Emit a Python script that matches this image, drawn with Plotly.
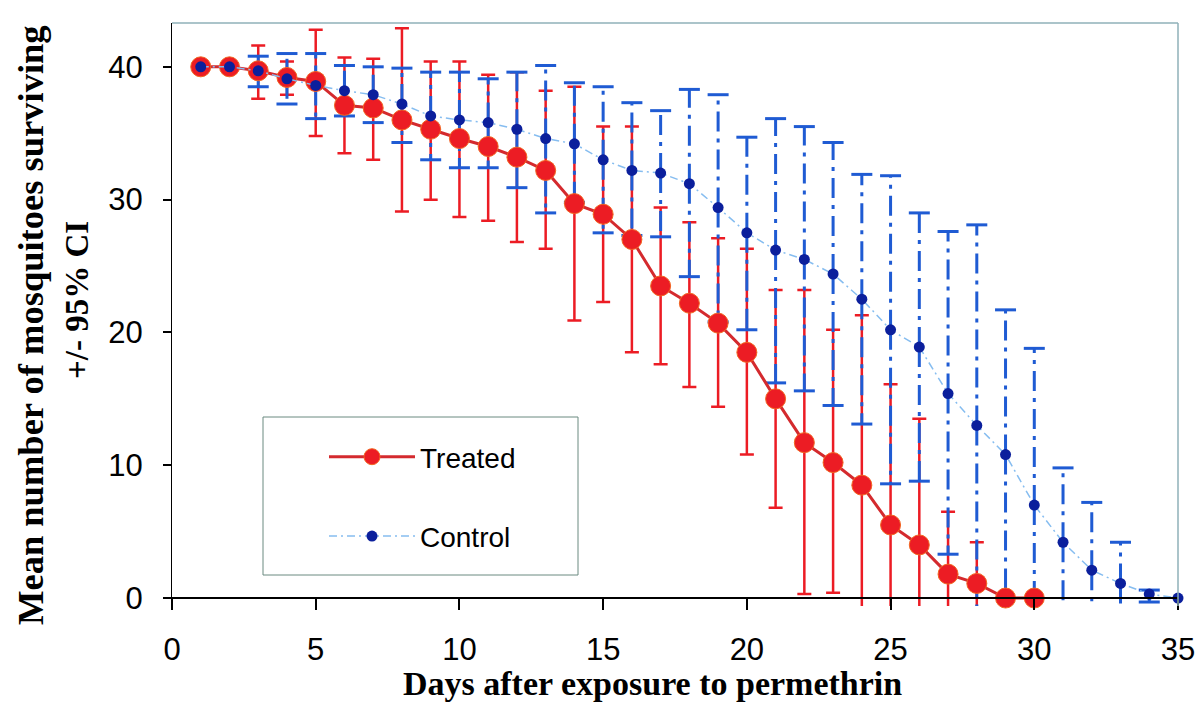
import plotly.graph_objects as go

# ---------------- data ----------------
days_treated = list(range(1, 31))
treated_mean = [40.0, 40.0, 39.7, 39.2, 38.9, 37.1, 36.9, 36.0, 35.3, 34.6,
                34.0, 33.2, 32.2, 29.7, 28.9, 27.0, 23.5, 22.2, 20.7, 18.5,
                15.0, 11.7, 10.2, 8.5, 5.5, 4.0, 1.8, 1.1, 0.0, 0.0]
treated_upper = [40.0, 40.0, 41.6, 40.4, 42.8, 40.7, 40.6, 42.9, 40.4, 40.4,
                 39.4, 39.6, 38.2, 38.5, 35.5, 35.5, 29.4, 28.3, 27.1, 26.3,
                 23.2, 23.2, 20.2, 21.3, 16.1, 13.5, 6.5, 4.2, 0.0, 0.0]
treated_lower = [40.0, 40.0, 37.6, 37.9, 34.8, 33.5, 33.0, 29.1, 30.0, 28.7,
                 28.4, 26.8, 26.3, 20.9, 22.3, 18.5, 17.6, 15.9, 14.4, 10.8,
                 6.8, 0.3, 0.4, -3.0, -4.0, -4.0, -3.0, -2.0, 0.0, 0.0]

days_control = list(range(1, 36))
control_mean = [40.0, 40.0, 39.7, 39.1, 38.6, 38.2, 37.9, 37.2, 36.3, 36.0,
                35.8, 35.3, 34.6, 34.2, 33.0, 32.2, 32.0, 31.2, 29.4, 27.5,
                26.2, 25.5, 24.4, 22.5, 20.2, 18.9, 15.4, 13.0, 10.8, 7.0,
                4.2, 2.1, 1.1, 0.3, 0.0]
control_upper = [40.0, 40.0, 40.8, 41.0, 41.0, 40.1, 40.0, 39.9, 39.6, 39.6,
                 39.1, 39.6, 40.1, 38.8, 38.5, 37.3, 36.7, 38.3, 37.9, 34.7,
                 36.1, 35.5, 34.3, 31.9, 31.8, 29.0, 27.6, 28.1, 21.7, 18.8,
                 9.8, 7.2, 4.2, 0.6, 0.0]
control_lower = [40.0, 40.0, 38.5, 37.2, 36.1, 36.3, 35.8, 34.3, 33.0, 32.4,
                 32.4, 30.9, 29.0, 29.8, 27.5, 27.3, 27.2, 24.2, 20.8, 20.2,
                 16.2, 15.6, 14.5, 13.1, 8.6, 8.8, 3.3, -2.0, -3.0, -3.0,
                 -3.0, -3.0, -2.0, -0.3, 0.0]

x_ticks = [0, 5, 10, 15, 20, 25, 30, 35]
y_ticks = [0, 10, 20, 30, 40]

# ---------------- styling ----------------
RED = "#ec1c24"
RED_LINE = "#d42a2e"
NAVY = "#0b1f9c"
BLUE_BAR = "#1f5bd3"
LIGHT_BLUE = "#86bdf0"
FRAME = "#8fb0b8"

# plot-area geometry in pixels (for placing legend box / titles)
W, H = 1201, 716
L, R, T, B = 172, 23, 23, 110
PW, PH = W - L - R, H - T - B


def px_to_paper_x(px):
    return (px - L) / PW


def px_to_paper_y(py):
    return (H - B - py) / PH


fig = go.Figure()

# red error bars (library error bars)
fig.add_trace(go.Scatter(
    x=days_treated, y=treated_mean, mode="markers",
    marker=dict(size=1, color="rgba(0,0,0,0)"),
    error_y=dict(type="data", symmetric=False,
                 array=[u - m for u, m in zip(treated_upper, treated_mean)],
                 arrayminus=[m - l for m, l in zip(treated_mean, treated_lower)],
                 color=RED, thickness=2.5, width=7),
    showlegend=False, hoverinfo="skip", cliponaxis=True))

# blue dash-dot whiskers, drawn from the mean outwards
wx, wy = [], []
for d, m, u, l in zip(days_control, control_mean, control_upper, control_lower):
    if u > m:
        wx += [d, d, None]
        wy += [m, u, None]
    if l < m:
        wx += [d, d, None]
        wy += [m, l, None]
fig.add_trace(go.Scatter(
    x=wx, y=wy, mode="lines",
    line=dict(color=BLUE_BAR, width=3, dash="20px,7px,4px,7px"),
    showlegend=False, hoverinfo="skip", connectgaps=False))

# blue caps
cx, cy = [], []
for d, m, u, l in zip(days_control, control_mean, control_upper, control_lower):
    if u > m:
        cx.append(d)
        cy.append(u)
    if l < m:
        cx.append(d)
        cy.append(l)
fig.add_trace(go.Scatter(
    x=cx, y=cy, mode="markers",
    marker=dict(symbol="line-ew", size=15, line=dict(color=BLUE_BAR, width=3)),
    showlegend=False, hoverinfo="skip", cliponaxis=True))

# Treated line + markers
fig.add_trace(go.Scatter(
    x=days_treated, y=treated_mean, mode="lines+markers", name="Treated",
    line=dict(color=RED_LINE, width=3),
    marker=dict(size=20, color=RED, line=dict(color="#f26522", width=1)),
    legendgroup="t", cliponaxis=False))

# Control line + markers
fig.add_trace(go.Scatter(
    x=days_control, y=control_mean, mode="lines+markers", name="Control",
    line=dict(color=LIGHT_BLUE, width=1.5, dash="8px,4px,2px,4px"),
    marker=dict(size=11, color=NAVY),
    legendgroup="c", cliponaxis=False))

y_min, y_max = -0.6, 43.3
zero_pos = (0 - y_min) / (y_max - y_min)

tickfont = dict(family="Liberation Sans, Arial, sans-serif", size=31, color="black")

fig.update_layout(
    width=W, height=H,
    margin=dict(l=L, r=R, t=T, b=B, autoexpand=False),
    paper_bgcolor="white", plot_bgcolor="white",
    showlegend=True,
    legend=dict(
        xref="paper", yref="paper",
        x=px_to_paper_x(324), y=px_to_paper_y(432), xanchor="left", yanchor="top",
        bgcolor="rgba(0,0,0,0)", borderwidth=0,
        font=dict(family="Liberation Sans, Arial, sans-serif", size=28, color="black"),
        itemwidth=86, tracegroupgap=40,
    ),
    xaxis=dict(
        range=[0, 35], tickvals=x_ticks, ticks="outside", ticklen=11,
        tickwidth=1.5, tickcolor="black", showline=True, linecolor="black",
        linewidth=2, showgrid=False, zeroline=False, tickfont=tickfont,
        anchor="free", position=zero_pos, ticklabelstandoff=13,
    ),
    xaxis2=dict(
        range=[0, 35], tickvals=x_ticks, ticks="inside", ticklen=10,
        tickwidth=1.5, tickcolor="black", showline=False, showgrid=False,
        zeroline=False, showticklabels=False, overlaying="x",
        anchor="free", position=zero_pos,
    ),
    yaxis=dict(
        range=[y_min, y_max], tickvals=y_ticks, ticks="outside", ticklen=8,
        tickwidth=1.5, tickcolor="black", showline=True, linecolor="black",
        linewidth=1, showgrid=False, zeroline=False, tickfont=tickfont,
        ticklabelstandoff=14,
    ),
)

# frame on top and right
fig.add_shape(type="line", xref="x domain", yref="y domain", x0=0, x1=1, y0=1, y1=1,
              line=dict(color=FRAME, width=1.5))
fig.add_shape(type="line", xref="x domain", yref="y domain", x0=1, x1=1, y0=0, y1=1,
              line=dict(color=FRAME, width=1.5))

# legend box
fig.add_shape(type="rect", xref="paper", yref="paper",
              x0=px_to_paper_x(263), x1=px_to_paper_x(578),
              y0=px_to_paper_y(575), y1=px_to_paper_y(417),
              line=dict(color="#6b8a80", width=1), fillcolor="rgba(0,0,0,0)")

serif = "Liberation Serif, Times New Roman, serif"
fig.add_annotation(text="<b>Mean number of mosquitoes surviving</b>", textangle=-90,
                   xref="paper", yref="paper", x=px_to_paper_x(31), y=px_to_paper_y(325),
                   showarrow=False, font=dict(family=serif, size=36.5, color="black"),
                   xanchor="center", yanchor="middle")
fig.add_annotation(text="<b>+/- 95% CI</b>", textangle=-90,
                   xref="paper", yref="paper", x=px_to_paper_x(77), y=px_to_paper_y(300),
                   showarrow=False, font=dict(family=serif, size=33, color="black"),
                   xanchor="center", yanchor="middle")
fig.add_annotation(text="<b>Days after exposure to permethrin</b>",
                   xref="paper", yref="paper", x=px_to_paper_x(652), y=px_to_paper_y(684),
                   showarrow=False, font=dict(family=serif, size=34, color="black"),
                   xanchor="center", yanchor="middle")

fig.write_html("out.html")
